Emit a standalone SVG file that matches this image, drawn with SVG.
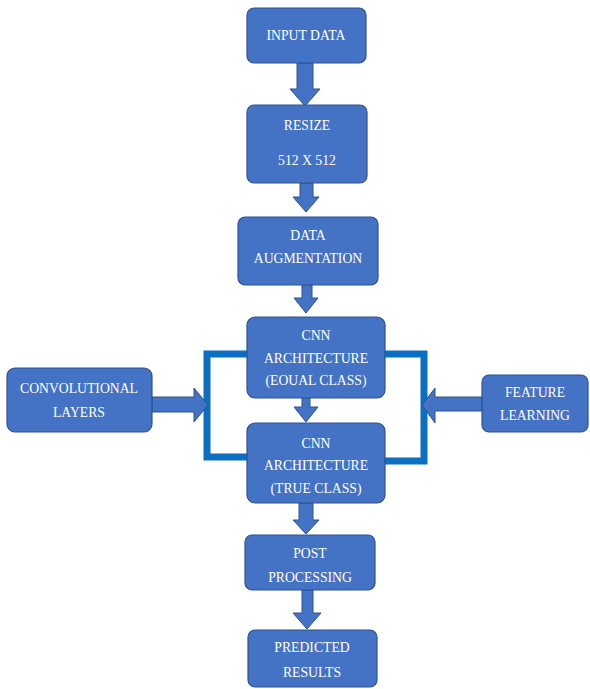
<svg xmlns="http://www.w3.org/2000/svg" width="590" height="689" viewBox="0 0 590 689">
<style>
.box{fill:#4472C4;stroke:#2F528F;stroke-width:1.2}
.arr{fill:#4472C4;stroke:#2F528F;stroke-width:1}
.br{fill:none;stroke:#0B6FC2;stroke-width:7}
text{font-family:"Liberation Serif","Times New Roman",serif;font-size:13.7px;fill:#FFFFFF;text-anchor:middle}
</style>
<rect width="590" height="689" fill="#FFFFFF"/>
<g id="connectors">
<polyline class="br" points="247,354 207,354 207,457 247,457"/>
<polyline class="br" points="385,354 424,354 424,461 385,461"/>
<path class="arr" d="M297,63 H313 V89 H320 L305,106 L290,89 H297 Z"/>
<path class="arr" d="M300,183 H313 V197 H319 L306,212 L293,197 H300 Z"/>
<path class="arr" d="M302,285 H312 V298 H318 L306,313 L294,298 H302 Z"/>
<path class="arr" d="M302,398 H310 V407 H318 L306,422 L294,407 H302 Z"/>
<path class="arr" d="M299,503 H313 V520 H319 L306,534 L293,520 H299 Z"/>
<path class="arr" d="M302,590 H313 V613 H321 L307,629 L293,613 H302 Z"/>
<path class="arr" d="M152,397 H194 V388 L208,405 L194,422 V412 H152 Z"/>
<path class="arr" d="M482,397 H435 V388 L422,405 L435,423 V411 H482 Z"/>
</g>
<g id="input-data"><rect class="box" x="247" y="8" width="119" height="55" rx="7"/><text x="306" y="40">INPUT DATA</text></g>
<g id="resize"><rect class="box" x="247" y="105" width="120" height="78" rx="7"/><text x="307" y="130">RESIZE</text><text x="307" y="165">512 X 512</text></g>
<g id="data-augmentation"><rect class="box" x="238" y="217" width="140" height="68" rx="7"/><text x="308" y="240">DATA</text><text x="308" y="263">AUGMENTATION</text></g>
<g id="cnn-equal"><rect class="box" x="247" y="317" width="138" height="81" rx="8"/><text x="316" y="340">CNN</text><text x="316" y="363">ARCHITECTURE</text><text x="316" y="385">(EOUAL CLASS)</text></g>
<g id="cnn-true"><rect class="box" x="247" y="423" width="138" height="80" rx="8"/><text x="316" y="448">CNN</text><text x="316" y="470">ARCHITECTURE</text><text x="316" y="493">(TRUE CLASS)</text></g>
<g id="convolutional-layers"><rect class="box" x="7" y="368" width="145" height="64" rx="8"/><text x="79" y="393">CONVOLUTIONAL</text><text x="79" y="417">LAYERS</text></g>
<g id="feature-learning"><rect class="box" x="482" y="375" width="106" height="57" rx="7"/><text x="535" y="397">FEATURE</text><text x="535" y="420">LEARNING</text></g>
<g id="post-processing"><rect class="box" x="245" y="535" width="130" height="55" rx="7"/><text x="310" y="558">POST</text><text x="310" y="582">PROCESSING</text></g>
<g id="predicted-results"><rect class="box" x="248" y="630" width="129" height="57" rx="7"/><text x="312" y="652">PREDICTED</text><text x="312" y="677">RESULTS</text></g>
</svg>
